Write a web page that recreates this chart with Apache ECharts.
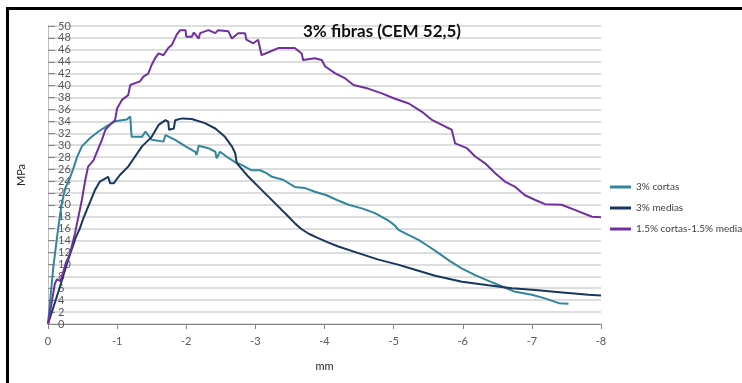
<!DOCTYPE html>
<html>
<head>
<meta charset="utf-8">
<script src="https://cdn.jsdelivr.net/npm/echarts@6/dist/echarts.min.js"></script>
<style>html,body{margin:0;padding:0;background:#fff}#c{width:742px;height:383px}</style>
</head>
<body>
<div id="c"></div>
<script>
const seriesNames = ['3% cortas', '3% medias', '1.5% cortas-1.5% media'];

const cortasX = [0, -0.077, -0.15, -0.20, -0.25, -0.32, -0.37, -0.42, -0.49, -0.61, -0.73, -0.85, -0.97, -1.14, -1.19, -1.21, -1.36, -1.41, -1.50, -1.67, -1.70, -1.84, -1.99, -2.13, -2.15, -2.18, -2.32, -2.42, -2.44, -2.49, -2.58, -2.70, -2.80, -2.94, -3.07, -3.16, -3.24, -3.40, -3.57, -3.72, -3.86, -4.03, -4.18, -4.35, -4.54, -4.73, -4.92, -5.02, -5.07, -5.22, -5.36, -5.51, -5.65, -5.82, -5.99, -6.18, -6.40, -6.57, -6.76, -7.0, -7.19, -7.39, -7.53];
const cortasY = [0, 9.6, 16.3, 20.3, 22.8, 24.6, 26.2, 28.0, 29.8, 31.2, 32.3, 33.2, 34.0, 34.3, 34.8, 31.4, 31.4, 32.3, 30.9, 30.6, 31.7, 30.9, 29.8, 28.9, 28.4, 29.9, 29.5, 28.9, 27.8, 28.9, 28.1, 27.2, 26.7, 25.8, 25.8, 25.3, 24.7, 24.2, 23.0, 22.8, 22.2, 21.6, 20.8, 20.0, 19.4, 18.6, 17.4, 16.5, 15.8, 14.9, 14.1, 13.0, 11.9, 10.5, 9.3, 8.2, 7.1, 6.3, 5.4, 4.9, 4.3, 3.5, 3.4];

const mediasX = [0, -0.15, -0.29, -0.40, -0.46, -0.51, -0.56, -0.61, -0.68, -0.75, -0.87, -0.90, -0.95, -1.04, -1.16, -1.26, -1.36, -1.50, -1.60, -1.70, -1.74, -1.75, -1.82, -1.84, -1.94, -2.08, -2.27, -2.42, -2.56, -2.66, -2.71, -2.73, -2.90, -3.09, -3.29, -3.48, -3.58, -3.67, -3.78, -3.91, -4.05, -4.20, -4.49, -4.78, -5.05, -5.31, -5.60, -5.99, -6.37, -6.71, -7.05, -7.44, -7.82, -8.0];
const mediasY = [0, 5.4, 10.7, 14.5, 16.0, 17.7, 19.1, 20.5, 22.5, 23.9, 24.7, 23.6, 23.6, 25.0, 26.4, 28.1, 29.8, 31.4, 33.4, 34.2, 33.9, 32.6, 32.8, 34.2, 34.5, 34.4, 33.7, 32.8, 31.4, 29.8, 28.6, 27.0, 24.7, 22.5, 20.2, 18.0, 16.8, 15.9, 15.1, 14.4, 13.7, 13.0, 11.9, 10.8, 10.0, 9.1, 8.1, 7.1, 6.5, 6.0, 5.7, 5.3, 4.9, 4.8];

const mixX = [0, -0.10, -0.13, -0.18, -0.25, -0.32, -0.39, -0.44, -0.49, -0.54, -0.58, -0.66, -0.73, -0.78, -0.83, -0.92, -0.97, -1.0, -1.07, -1.16, -1.19, -1.33, -1.38, -1.45, -1.50, -1.55, -1.60, -1.67, -1.74, -1.79, -1.86, -1.91, -1.99, -2.0, -2.08, -2.11, -2.18, -2.20, -2.32, -2.42, -2.46, -2.61, -2.66, -2.75, -2.85, -2.87, -2.97, -3.04, -3.09, -3.19, -3.33, -3.57, -3.67, -3.69, -3.86, -3.96, -4.01, -4.15, -4.30, -4.42, -4.63, -4.83, -5.02, -5.22, -5.41, -5.56, -5.75, -5.84, -5.89, -6.06, -6.18, -6.32, -6.47, -6.61, -6.76, -6.90, -7.05, -7.19, -7.43, -7.63, -7.87, -8.0];
const mixY = [0, 6.8, 7.5, 7.2, 9.9, 11.9, 15.2, 18.0, 20.8, 24.2, 26.4, 27.5, 29.5, 30.9, 32.6, 33.7, 34.2, 36.2, 37.6, 38.4, 40.1, 40.7, 41.5, 42.0, 43.5, 44.6, 45.4, 45.1, 46.3, 46.8, 48.5, 49.3, 49.3, 48.2, 48.2, 48.9, 47.9, 48.8, 49.3, 48.8, 49.3, 49.1, 47.9, 48.8, 48.8, 47.7, 47.1, 47.7, 45.1, 45.6, 46.3, 46.3, 45.4, 44.3, 44.6, 44.3, 43.2, 42.1, 41.2, 40.1, 39.5, 38.7, 37.8, 37.0, 35.6, 34.2, 33.1, 32.6, 30.3, 29.5, 28.1, 27.0, 25.3, 23.9, 23.0, 21.6, 20.8, 20.1, 20.0, 19.1, 18.0, 17.9];

const zip = (xs, ys) => xs.map((x, i) => [x, ys[i]]);
const font = 'Lato, "Open Sans", sans-serif';

const chart = echarts.init(document.getElementById('c'), null, {renderer: 'canvas'});
chart.setOption({
  animation: false,
  backgroundColor: '#fff',
  title: {
    text: '3% fibras (CEM 52,5)',
    left: 377, top: 18, textAlign: 'center',
    textStyle: {fontFamily: font, fontSize: 17, fontWeight: 'bold', color: '#111'}
  },
  graphic: [{
    type: 'rect', z: 100,
    shape: {x: 7.5, y: 8.5, width: 900, height: 500},
    style: {fill: 'none', stroke: '#000', lineWidth: 3}
  }],
  legend: {
    orient: 'vertical', left: 605, top: 176,
    itemWidth: 21, itemHeight: 3, itemGap: 9, icon: 'rect',
    textStyle: {fontFamily: font, fontSize: 10, color: '#404040', lineHeight: 12},
    data: seriesNames
  },
  grid: {left: 48, right: 141, top: 26, bottom: 59, containLabel: false},
  xAxis: {
    type: 'value', min: -8, max: 0, interval: 1, inverse: true,
    name: 'mm', nameLocation: 'middle', nameGap: 37,
    nameTextStyle: {fontFamily: font, fontSize: 11, color: '#262626'},
    axisLine: {lineStyle: {color: '#868686', width: 1}},
    axisTick: {show: true, length: 5, lineStyle: {color: '#868686'}},
    axisLabel: {fontFamily: font, fontSize: 11, color: '#595959', margin: 12},
    splitLine: {show: false}
  },
  yAxis: {
    type: 'value', min: 0, max: 50, interval: 2,
    name: 'MPa', nameLocation: 'middle', nameGap: 21,
    nameTextStyle: {fontFamily: font, fontSize: 11, color: '#262626'},
    axisLine: {show: true, lineStyle: {color: '#bdbdbd', width: 1}},
    axisTick: {show: true, inside: true, length: 7, lineStyle: {color: '#868686'}},
    axisLabel: {inside: true, margin: 10, fontFamily: font, fontSize: 11, color: '#595959'},
    splitLine: {show: true, lineStyle: {color: '#d2d2d2', width: 1.5}}
  },
  series: [
    {name: seriesNames[0], type: 'line', data: zip(cortasX, cortasY), showSymbol: false, symbol: 'none',
     lineStyle: {color: '#31859C', width: 2}, itemStyle: {color: '#31859C'}},
    {name: seriesNames[1], type: 'line', data: zip(mediasX, mediasY), showSymbol: false, symbol: 'none',
     lineStyle: {color: '#17375E', width: 2}, itemStyle: {color: '#17375E'}},
    {name: seriesNames[2], type: 'line', data: zip(mixX, mixY), showSymbol: false, symbol: 'none',
     lineStyle: {color: '#7030A0', width: 2}, itemStyle: {color: '#7030A0'}}
  ]
});
</script>
</body>
</html>
